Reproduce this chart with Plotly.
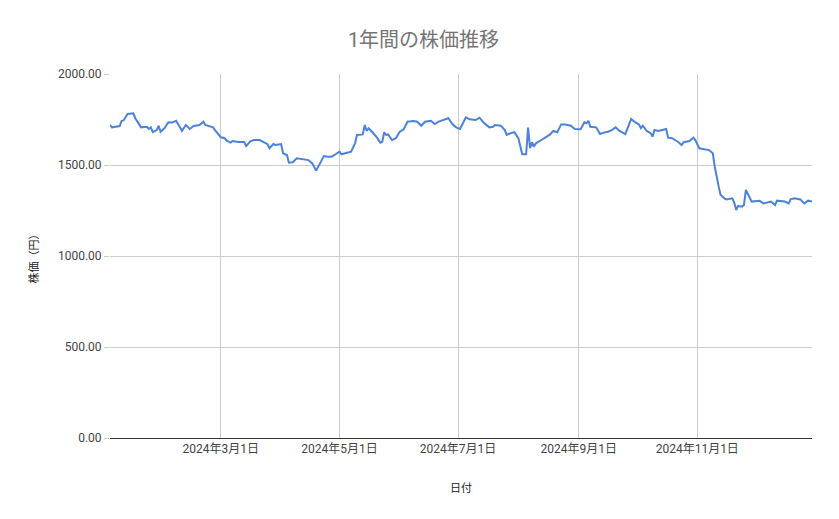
import plotly.graph_objects as go

# =========================
# DATA (2024)
# =========================
dates = [
    "2024-01-04", "2024-01-05", "2024-01-09", "2024-01-10", "2024-01-11", "2024-01-13",
    "2024-01-16", "2024-01-17", "2024-01-20", "2024-01-22", "2024-01-23", "2024-01-24",
    "2024-01-25", "2024-01-26", "2024-01-28", "2024-01-29", "2024-01-30", "2024-02-01",
    "2024-02-03", "2024-02-05", "2024-02-07", "2024-02-10", "2024-02-12", "2024-02-14",
    "2024-02-16", "2024-02-19", "2024-02-21", "2024-02-22", "2024-02-26", "2024-02-27",
    "2024-03-01", "2024-03-03", "2024-03-04", "2024-03-06", "2024-03-07", "2024-03-10",
    "2024-03-13", "2024-03-14", "2024-03-16", "2024-03-18", "2024-03-21", "2024-03-23",
    "2024-03-25", "2024-03-26", "2024-03-28", "2024-03-29", "2024-04-01", "2024-04-02",
    "2024-04-04", "2024-04-05", "2024-04-07", "2024-04-09", "2024-04-12", "2024-04-15",
    "2024-04-17", "2024-04-19", "2024-04-21", "2024-04-23", "2024-04-25", "2024-04-27",
    "2024-04-29", "2024-05-01", "2024-05-02", "2024-05-04", "2024-05-07", "2024-05-09",
    "2024-05-10", "2024-05-13", "2024-05-14", "2024-05-15", "2024-05-16", "2024-05-18",
    "2024-05-20", "2024-05-22", "2024-05-23", "2024-05-24", "2024-05-25", "2024-05-26",
    "2024-05-28", "2024-05-30", "2024-06-01", "2024-06-03", "2024-06-05", "2024-06-08",
    "2024-06-10", "2024-06-12", "2024-06-14", "2024-06-17", "2024-06-19", "2024-06-21",
    "2024-06-24", "2024-06-26", "2024-06-28", "2024-06-30", "2024-07-02", "2024-07-05",
    "2024-07-07", "2024-07-10", "2024-07-12", "2024-07-14", "2024-07-17", "2024-07-19",
    "2024-07-20", "2024-07-23", "2024-07-25", "2024-07-26", "2024-07-28", "2024-07-30",
    "2024-08-01", "2024-08-03", "2024-08-05", "2024-08-06", "2024-08-07", "2024-08-08",
    "2024-08-09", "2024-08-10", "2024-08-12", "2024-08-14", "2024-08-17", "2024-08-19",
    "2024-08-21", "2024-08-23", "2024-08-25", "2024-08-28", "2024-08-30", "2024-09-02",
    "2024-09-04", "2024-09-05", "2024-09-06", "2024-09-07", "2024-09-10", "2024-09-12",
    "2024-09-13", "2024-09-16", "2024-09-18", "2024-09-20", "2024-09-22", "2024-09-25",
    "2024-09-28", "2024-09-30", "2024-10-02", "2024-10-03", "2024-10-04", "2024-10-06",
    "2024-10-08", "2024-10-09", "2024-10-10", "2024-10-12", "2024-10-16", "2024-10-17",
    "2024-10-19", "2024-10-22", "2024-10-24", "2024-10-25", "2024-10-28", "2024-10-30",
    "2024-10-31", "2024-11-02", "2024-11-05", "2024-11-07", "2024-11-09", "2024-11-10",
    "2024-11-12", "2024-11-13", "2024-11-15", "2024-11-16", "2024-11-19", "2024-11-20",
    "2024-11-21", "2024-11-22", "2024-11-24", "2024-11-25", "2024-11-26", "2024-11-28",
    "2024-11-29", "2024-12-03", "2024-12-05", "2024-12-09", "2024-12-11", "2024-12-12",
    "2024-12-16", "2024-12-18", "2024-12-19", "2024-12-21", "2024-12-24", "2024-12-26",
    "2024-12-28", "2024-12-30",
]

prices = [
    1720, 1707, 1714, 1743, 1745, 1780,
    1784, 1757, 1707, 1707, 1710, 1698,
    1707, 1681, 1692, 1716, 1683, 1702,
    1735, 1733, 1743, 1688, 1720, 1698,
    1714, 1720, 1738, 1720, 1707, 1692,
    1652, 1647, 1634, 1623, 1632, 1626,
    1626, 1604, 1628, 1637, 1637, 1626,
    1614, 1592, 1615, 1610, 1615, 1564,
    1555, 1513, 1515, 1537, 1533, 1527,
    1509, 1469, 1509, 1549, 1546, 1546,
    1559, 1573, 1559, 1564, 1573, 1619,
    1665, 1668, 1720, 1687, 1702, 1680,
    1655, 1623, 1628, 1680, 1665, 1668,
    1637, 1647, 1683, 1696, 1738, 1742,
    1738, 1716, 1738, 1743, 1725, 1738,
    1747, 1757, 1725, 1707, 1698, 1762,
    1751, 1747, 1760, 1735, 1707, 1710,
    1720, 1716, 1692, 1665, 1675, 1680,
    1647, 1559, 1559, 1705, 1592, 1625,
    1601, 1619, 1632, 1647, 1665, 1687,
    1680, 1723, 1723, 1716, 1698, 1696,
    1735, 1729, 1743, 1710, 1707, 1670,
    1675, 1683, 1692, 1707, 1687, 1670,
    1753, 1735, 1723, 1702, 1716, 1687,
    1675, 1655, 1692, 1687, 1698, 1650,
    1647, 1628, 1610, 1625, 1632, 1650,
    1637, 1592, 1588, 1582, 1564, 1491,
    1381, 1335, 1317, 1311, 1317, 1293,
    1253, 1275, 1271, 1280, 1363, 1317,
    1299, 1304, 1289, 1299, 1280, 1304,
    1299, 1289, 1311, 1317, 1311, 1289,
    1304, 1299,
]

x_tick_vals = ["2024-03-01", "2024-05-01", "2024-07-01", "2024-09-01", "2024-11-01"]
x_tick_text = ["2024年3月1日", "2024年5月1日", "2024年7月1日", "2024年9月1日", "2024年11月1日"]
y_tick_vals = [0, 500, 1000, 1500, 2000]

FONT = "Roboto, 'Noto Sans CJK JP', sans-serif"

# =========================
# FIGURE
# (page body has an 8px margin, so the figure is a bit smaller than the window)
# =========================
fig = go.Figure()
fig.add_trace(go.Scatter(
    x=dates,
    y=prices,
    mode="lines",
    line=dict(color="#4a82dc", width=2),
    name="株価",
))

fig.update_layout(
    width=831,
    height=511,
    paper_bgcolor="white",
    plot_bgcolor="white",
    margin=dict(l=102, r=27, t=66, b=81),
    showlegend=False,
    font=dict(family=FONT, size=12, color="#444444"),
    title=dict(
        text="1年間の株価推移",
        x=0.5, xanchor="center",
        y=0.937, yanchor="middle",
        font=dict(family=FONT, size=20, color="#757575"),
    ),
)

fig.update_xaxes(
    type="date",
    range=[dates[0], dates[-1]],
    tickvals=x_tick_vals,
    ticktext=x_tick_text,
    tickfont=dict(size=12, color="#444444"),
    showgrid=True,
    gridcolor="#cccccc",
    gridwidth=1,
    showline=True,
    linecolor="#333333",
    linewidth=1,
    ticks="",
    title=dict(text="日付", font=dict(size=11, color="#222222"), standoff=28),
)

fig.update_yaxes(
    range=[0, 2000],
    tickvals=y_tick_vals,
    tickformat=".2f",
    tickfont=dict(size=12, color="#444444"),
    showgrid=True,
    gridcolor="#cccccc",
    gridwidth=1,
    zeroline=False,
    ticks="outside",
    ticklen=5,
    tickcolor="#cccccc",
    title=dict(text="株価（円）", font=dict(size=11, color="#222222"), standoff=17),
)

fig.write_html("out.html")
